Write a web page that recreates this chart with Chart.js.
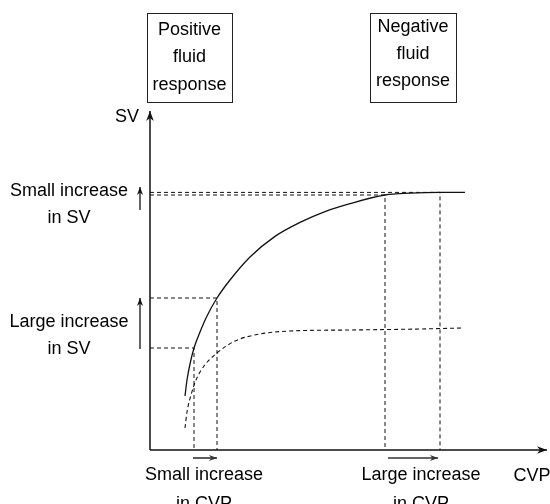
<!DOCTYPE html>
<html>
<head>
<meta charset="utf-8">
<script src="https://cdn.jsdelivr.net/npm/chart.js@4.4.1/dist/chart.umd.min.js"></script>
<style>
body { margin: 0; background: #fff; }
canvas { display: block; }
</style>
</head>
<body>
<canvas id="starling" width="550" height="504"></canvas>
<script>
// Frank-Starling curves: CVP on x, SV on y (arbitrary units)
const cvpSolid = [8.75, 9.25, 10, 11, 12.5, 14.25, 16.75, 20, 25, 31.25, 37.5, 43.75, 50, 58.75, 65, 72.5, 78.75];
const svSolid  = [13.5, 17.5, 21.5, 25.5, 29.5, 33.5, 38, 42.5, 48.25, 53.4, 56.9, 59.6, 61.6, 63.75, 64.2, 64.4, 64.4];
const cvpDashed = [8.75, 9.25, 10.25, 11.5, 13.5, 16.75, 21.25, 27.5, 35, 50, 67.5, 78.25];
const svDashed  = [5.5, 9.5, 13.75, 17.5, 21, 24.25, 27.25, 29, 29.75, 30, 30.25, 30.5];

// operating points (dashed guides down to the axes)
const guideCvp = [11, 16.75, 58.75, 72.5];
const guideSv  = [25.5, 38, 63.75, 64.4];

// axis extents and the small "increase" arrows
const axisEnd = { cvp: 99.25, sv: 84.75 };
const svArrows  = [[25.25, 38], [60, 65.75]];   // at cvp = -2.5
const cvpArrows = [[10.75, 16.75], [59.5, 72]]; // at sv = -2

const zip = (xs, ys) => xs.map((v, i) => ({ x: v, y: ys[i] }));

const ink = '#111';
const datasets = [];

guideCvp.forEach((c, i) => {
    datasets.push({
        data: [{ x: 0, y: guideSv[i] }, { x: c, y: guideSv[i] }, { x: c, y: 0 }],
        borderColor: ink, borderWidth: 1, borderDash: [4, 3]
    });
});

datasets.push({ data: zip(cvpDashed, svDashed), borderColor: ink, borderWidth: 1.1, borderDash: [4, 3], cubicInterpolationMode: 'monotone' });
datasets.push({ data: zip(cvpSolid, svSolid), borderColor: ink, borderWidth: 1.3, cubicInterpolationMode: 'monotone' });

// axes
datasets.push({ data: [{ x: 0, y: 0 }, { x: 0, y: axisEnd.sv }], borderColor: ink, borderWidth: 1.5, arrow: 10 });
datasets.push({ data: [{ x: 0, y: 0 }, { x: axisEnd.cvp, y: 0 }], borderColor: ink, borderWidth: 1.5, arrow: 10 });

svArrows.forEach(a => datasets.push({ data: [{ x: -2.5, y: a[0] }, { x: -2.5, y: a[1] }], borderColor: ink, borderWidth: 1.3, arrow: 8 }));
cvpArrows.forEach(a => datasets.push({ data: [{ x: a[0], y: -2 }, { x: a[1], y: -2 }], borderColor: '#333', borderWidth: 1.6, arrow: 8 }));

const boxes = [
    { x0: -0.75, x1: 20.5, y0: 109.25, y1: 87 },
    { x0: 55, x1: 76.5, y0: 109.25, y1: 87 }
];

const labels = [
    { text: 'Positive', x: 9.875, y: 103.75 },
    { text: 'fluid', x: 9.875, y: 96.9 },
    { text: 'response', x: 9.875, y: 90 },
    { text: 'Negative', x: 65.75, y: 104.6 },
    { text: 'fluid', x: 65.75, y: 97.75 },
    { text: 'response', x: 65.75, y: 90.9 },
    { text: 'SV', x: -5.75, y: 82.1 },
    { text: 'Small increase', x: -20.25, y: 63.5 },
    { text: 'in SV', x: -20.25, y: 56.75 },
    { text: 'Large increase', x: -20.25, y: 30.75 },
    { text: 'in SV', x: -20.25, y: 24 },
    { text: 'Small increase', x: 13.5, y: -7.6 },
    { text: 'in CVP', x: 13.5, y: -14.75 },
    { text: 'Large increase', x: 67.75, y: -7.6 },
    { text: 'in CVP', x: 67.75, y: -14.75 },
    { text: 'CVP', x: 95.5, y: -7.75 }
];

const diagramPlugin = {
    id: 'diagram',
    afterDatasetsDraw(chart) {
        const ctx = chart.ctx;
        const sx = chart.scales.x, sy = chart.scales.y;
        ctx.save();

        // arrow heads at the end of flagged lines
        chart.data.datasets.forEach((ds, i) => {
            if (!ds.arrow) return;
            const pts = chart.getDatasetMeta(i).data;
            const a = pts[pts.length - 2], b = pts[pts.length - 1];
            const ang = Math.atan2(b.y - a.y, b.x - a.x);
            const len = ds.arrow, w = len * 0.38;
            ctx.save();
            ctx.translate(b.x, b.y);
            ctx.rotate(ang);
            ctx.beginPath();
            ctx.moveTo(0, 0);
            ctx.lineTo(-len, -w);
            ctx.lineTo(-len * 0.7, 0);
            ctx.lineTo(-len, w);
            ctx.closePath();
            ctx.fillStyle = ds.borderColor;
            ctx.fill();
            ctx.restore();
        });

        // boxes
        ctx.strokeStyle = '#222';
        ctx.lineWidth = 1;
        boxes.forEach(b => {
            const x0 = Math.round(sx.getPixelForValue(b.x0)) + 0.5;
            const x1 = Math.round(sx.getPixelForValue(b.x1)) + 0.5;
            const y0 = Math.round(sy.getPixelForValue(b.y0)) + 0.5;
            const y1 = Math.round(sy.getPixelForValue(b.y1)) + 0.5;
            ctx.strokeRect(x0, y0, x1 - x0, y1 - y0);
        });

        // text
        ctx.fillStyle = '#000';
        ctx.font = '18px "Liberation Sans", Arial, sans-serif';
        ctx.textAlign = 'center';
        ctx.textBaseline = 'alphabetic';
        labels.forEach(l => ctx.fillText(l.text, sx.getPixelForValue(l.x), sy.getPixelForValue(l.y)));
        ctx.restore();
    }
};

new Chart(document.getElementById('starling'), {
    type: 'scatter',
    data: { datasets: datasets.map(d => Object.assign({ showLine: true, pointRadius: 0, pointHoverRadius: 0, fill: false }, d)) },
    options: {
        responsive: false,
        animation: false,
        devicePixelRatio: 1,
        layout: { padding: 0 },
        plugins: { legend: { display: false }, tooltip: { enabled: false } },
        scales: {
            x: { type: 'linear', display: false, min: -37.5, max: 100 },
            y: { type: 'linear', display: false, min: -13.5, max: 112.5 }
        }
    },
    plugins: [diagramPlugin]
});
</script>
</body>
</html>
